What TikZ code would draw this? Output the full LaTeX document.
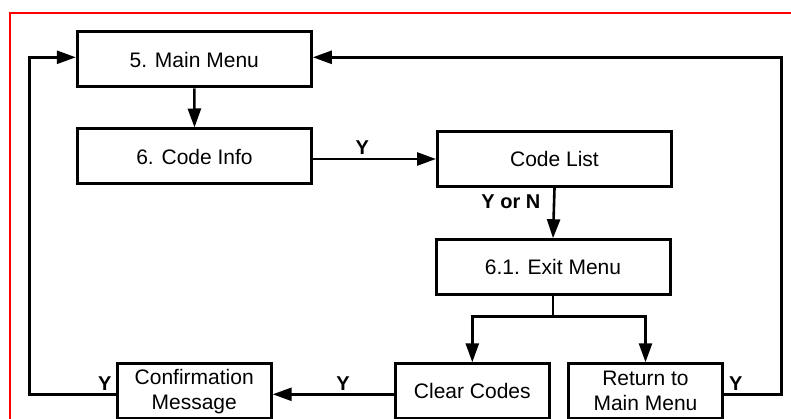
\documentclass[tikz,border=0pt]{standalone}
\usepackage{fontspec}
\setmainfont{Liberation Sans}
\usetikzlibrary{arrows.meta,calc}
\begin{document}
\begin{tikzpicture}[x=1pt,y=-1pt,
  box/.style={draw=black,line width=3pt,fill=white,align=center,
    font=\fontsize{21}{25}\selectfont,inner sep=0pt},
  wide/.style={box,minimum width=234pt,minimum height=55pt},
  narrow/.style={box,minimum width=154pt,minimum height=55pt},
  conn/.style={line width=2.6pt,-{Triangle[length=19pt,width=13pt]}},
  plain/.style={line width=2.6pt},
  lbl/.style={font=\bfseries\fontsize{20}{24}\selectfont,inner sep=0pt}]
\useasboundingbox (0,0) rectangle (791,419);
\draw[red,line width=2.2pt] (10,425) -- (10,13) -- (795,13);

\node[wide] (main) at (194.3,59.5) {5. Main Menu};
\node[wide] (codeinfo) at (194.5,156.5) {6. Code Info};
\node[wide] (codelist) at (554.5,159) {Code List};
\node[wide] (exit) at (553,267.2) {6.1. Exit Menu};
\node[narrow] (clear) at (472.3,391.3) {Clear Codes};
\node[narrow] (ret) at (645.5,391.3) {Return to\\Main Menu};
\node[narrow] (conf) at (194.2,391.3) {Confirmation\\Message};

\coordinate (split) at ($(exit.south)+(0,20.5)$);
\coordinate (ltop) at (29.3,57.3);
\coordinate (rtop) at (781.7,57.3);
\coordinate (clearout) at ($(clear.west)+(0,3)$);
\coordinate (confin) at ($(conf.east)+(0,3)$);
\coordinate (confout) at ($(conf.west)+(0,3)$);
\coordinate (retout) at ($(ret.east)+(0,3)$);

\draw[conn] (main.south) -- (codeinfo.north);
\draw[conn] (codelist.west -| codeinfo.east) -- node[lbl,above=3pt,pos=0.4] {Y} (codelist.west);
\draw[conn] (codelist.south) -- (exit.north);
\node[lbl,anchor=north east] (yn) at ($(codelist.south)+(-14,7)$) {Y or N};
\draw[plain] (exit.south) -- (split);
\draw[conn] (split) -| (clear.north);
\draw[conn] (split) -| (ret.north);
\draw[conn] (clearout) -- node[lbl,above=3pt,pos=0.42] {Y} (confin);
\draw[conn] (confout) -| (ltop) -- (ltop -| main.west);
\draw[conn] (retout) -| (rtop) -- (rtop -| main.east);
\node[lbl,anchor=south east] (yl) at ($(confout)+(-4,-4)$) {Y};
\node[lbl,anchor=south west] (yr) at ($(retout)+(5,-4)$) {Y};
\end{tikzpicture}
\end{document}
